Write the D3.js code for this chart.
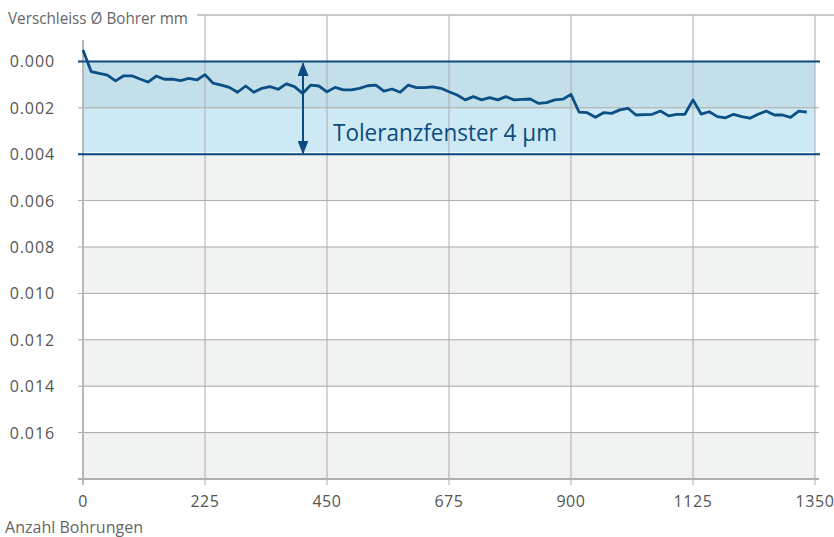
<!DOCTYPE html>
<html>
<head>
<meta charset="utf-8">
<script src="https://cdn.jsdelivr.net/npm/d3@7"></script>
<style>
  body { margin: 0; background: #ffffff; }
  text { font-family: "Open Sans", "Noto Sans", sans-serif; }
</style>
</head>
<body>
<script>
/*
* Verschleiss chart: wear of drill diameter over number of drillings.
*/

// number of drillings for every measurement
var drillings = [0, 15, 30, 45, 60, 75, 90, 105, 120, 135, 150, 165, 180, 195, 210,
	225, 240, 255, 270, 285, 300, 315, 330, 345, 360, 375, 390, 405, 420, 435,
	450, 465, 480, 495, 510, 525, 540, 555, 570, 585, 600, 615, 630, 645, 660,
	675, 690, 705, 720, 735, 750, 765, 780, 795, 810, 825, 840, 855, 870, 885,
	900, 915, 930, 945, 960, 975, 990, 1005, 1020, 1035, 1050, 1065, 1080, 1095, 1110,
	1125, 1140, 1155, 1170, 1185, 1200, 1215, 1230, 1245, 1260, 1275, 1290, 1305, 1320, 1335];

// wear in mm
var wear = [-0.00049, 0.00044, 0.00052, 0.00059, 0.00084, 0.00062, 0.00062, 0.00076, 0.00089, 0.00063,
	0.00077, 0.00076, 0.00083, 0.00073, 0.00080, 0.00057, 0.00094, 0.00102, 0.00112, 0.00133,
	0.00106, 0.00133, 0.00116, 0.00109, 0.00120, 0.00097, 0.00109, 0.00138, 0.00102, 0.00106,
	0.00131, 0.00112, 0.00123, 0.00123, 0.00116, 0.00105, 0.00102, 0.00128, 0.00119, 0.00133,
	0.00102, 0.00113, 0.00113, 0.00110, 0.00116, 0.00131, 0.00145, 0.00166, 0.00152, 0.00166,
	0.00156, 0.00166, 0.00152, 0.00166, 0.00164, 0.00162, 0.00181, 0.00178, 0.00166, 0.00163,
	0.00142, 0.00219, 0.00221, 0.00241, 0.00221, 0.00224, 0.00209, 0.00202, 0.00231, 0.00229,
	0.00228, 0.00214, 0.00235, 0.00228, 0.00228, 0.00166, 0.00227, 0.00217, 0.00238, 0.00243,
	0.00228, 0.00238, 0.00245, 0.00228, 0.00214, 0.00231, 0.00231, 0.00241, 0.00214, 0.00219];

// tick values
var xTicks = [0, 225, 450, 675, 900, 1125, 1350];
var yTicks = [0.000, 0.002, 0.004, 0.006, 0.008, 0.010, 0.012, 0.014, 0.016];

// tolerance window
var tolerance = [0.000, 0.004];

var width = 834;
var height = 537;

// svg
var svg = d3.select("body")
	.append("svg")
	.attr("width", width)
	.attr("height", height);

// scales
var xScale = d3.scaleLinear()
	.domain([0, 1350])
	.range([83, 815]);

var yScale = d3.scaleLinear()
	.domain([-0.002, 0.018])
	.range([15, 479]);

// alternating background bands
var bands = d3.range(-0.002, 0.018 - 1e-9, 0.002);
svg.selectAll("rect.band")
	.data(bands)
	.enter()
	.append("rect")
	.attr("class", "band")
	.attr("x", xScale(0))
	.attr("y", function(d) { return yScale(d); })
	.attr("width", xScale(1350) - xScale(0))
	.attr("height", function(d) { return yScale(d + 0.002) - yScale(d); })
	.style("fill", function(d, i) { return i % 2 == 1 ? "#f1f2f2" : "#ffffff"; });

// tolerance window fill
svg.append("rect")
	.attr("x", xScale(0))
	.attr("y", yScale(tolerance[0]))
	.attr("width", xScale(1350) - xScale(0))
	.attr("height", yScale(0.002) - yScale(tolerance[0]))
	.style("fill", "#c3e0ea");

svg.append("rect")
	.attr("x", xScale(0))
	.attr("y", yScale(0.002))
	.attr("width", xScale(1350) - xScale(0))
	.attr("height", yScale(tolerance[1]) - yScale(0.002) - 2)
	.style("fill", "#cdeaf4");

// horizontal grid lines
svg.selectAll("line.hgrid")
	.data(yTicks)
	.enter()
	.append("line")
	.attr("class", "hgrid")
	.attr("x1", 78)
	.attr("x2", 819)
	.attr("y1", function(d) { return yScale(d); })
	.attr("y2", function(d) { return yScale(d); })
	.style("stroke", "#a8a8a8")
	.style("stroke-width", 1);

// vertical grid lines
svg.selectAll("line.vgrid")
	.data(xTicks)
	.enter()
	.append("line")
	.attr("class", "vgrid")
	.attr("x1", function(d) { return xScale(d); })
	.attr("x2", function(d) { return xScale(d); })
	.attr("y1", function(d) { return d == 0 ? 40 : yScale(-0.002); })
	.attr("y2", 485)
	.style("stroke", function(d) { return d == 0 ? "#b8b8b8" : "#acacac"; })
	.style("stroke-width", function(d) { return d == 0 ? 2 : 1; });

// top border next to the title
svg.append("line")
	.attr("x1", 197)
	.attr("x2", 834)
	.attr("y1", yScale(-0.002))
	.attr("y2", yScale(-0.002))
	.style("stroke", "#b8b8b8")
	.style("stroke-width", 1.5);

// bottom axis line
svg.append("line")
	.attr("x1", 78)
	.attr("x2", 819)
	.attr("y1", yScale(0.018))
	.attr("y2", yScale(0.018))
	.style("stroke", "#b0b0b0")
	.style("stroke-width", 2);

// tolerance lines
svg.selectAll("line.tol")
	.data(tolerance)
	.enter()
	.append("line")
	.attr("class", "tol")
	.attr("x1", 78)
	.attr("x2", 820)
	.attr("y1", function(d) { return yScale(d); })
	.attr("y2", function(d) { return yScale(d); })
	.style("stroke", "#0c4a80")
	.style("stroke-width", 2);

// wear line
var line = d3.line()
	.x(function(d, i) { return xScale(drillings[i]); })
	.y(function(d) { return yScale(d); });

svg.append("path")
	.datum(wear)
	.attr("d", line)
	.style("fill", "none")
	.style("stroke", "#0b4f86")
	.style("stroke-width", 2.8)
	.style("stroke-linejoin", "round");

// double arrow for tolerance window
var defs = svg.append("defs");
defs.append("marker")
	.attr("id", "arrow")
	.attr("viewBox", "0 0 10 10")
	.attr("refX", 9)
	.attr("refY", 5)
	.attr("markerWidth", 7)
	.attr("markerHeight", 5.5)
	.attr("markerUnits", "strokeWidth")
	.attr("orient", "auto-start-reverse")
	.attr("preserveAspectRatio", "none")
	.append("path")
	.attr("d", "M0,0 L10,5 L0,10 Z")
	.style("fill", "#0c4a80");

svg.append("line")
	.attr("x1", 303)
	.attr("x2", 303)
	.attr("y1", yScale(tolerance[0]) + 2)
	.attr("y2", yScale(tolerance[1]) - 1)
	.style("stroke", "#0c4a80")
	.style("stroke-width", 2)
	.attr("marker-start", "url(#arrow)")
	.attr("marker-end", "url(#arrow)");

svg.append("text")
	.attr("x", 333)
	.attr("y", 141)
	.text("Toleranzfenster 4 µm")
	.attr("textLength", 224)
	.attr("lengthAdjust", "spacingAndGlyphs")
	.style("fill", "#0c4a80")
	.style("font-size", "24px");

// y tick labels
svg.selectAll("text.ylab")
	.data(yTicks)
	.enter()
	.append("text")
	.attr("class", "ylab")
	.attr("x", 55)
	.attr("y", function(d) { return yScale(d) + 6; })
	.text(function(d) { return d3.format(".3f")(d); })
	.style("text-anchor", "end")
	.style("fill", "#555555")
	.style("font-size", "16px")
	.style("letter-spacing", "0.9px");

// x tick labels
svg.selectAll("text.xlab")
	.data(xTicks)
	.enter()
	.append("text")
	.attr("class", "xlab")
	.attr("x", function(d) { return xScale(d); })
	.attr("y", 507)
	.text(function(d) { return d; })
	.style("text-anchor", "middle")
	.style("fill", "#555555")
	.style("font-size", "16px")
	.style("letter-spacing", "0.6px");

// axis titles
svg.append("text")
	.attr("x", 8)
	.attr("y", 24)
	.text("Verschleiss Ø Bohrer mm")
	.attr("textLength", 180)
	.attr("lengthAdjust", "spacingAndGlyphs")
	.style("fill", "#666666")
	.style("font-size", "16px");

svg.append("text")
	.attr("x", 5)
	.attr("y", 533)
	.text("Anzahl Bohrungen")
	.attr("textLength", 138)
	.attr("lengthAdjust", "spacingAndGlyphs")
	.style("fill", "#666666")
	.style("font-size", "16px");
</script>
</body>
</html>
